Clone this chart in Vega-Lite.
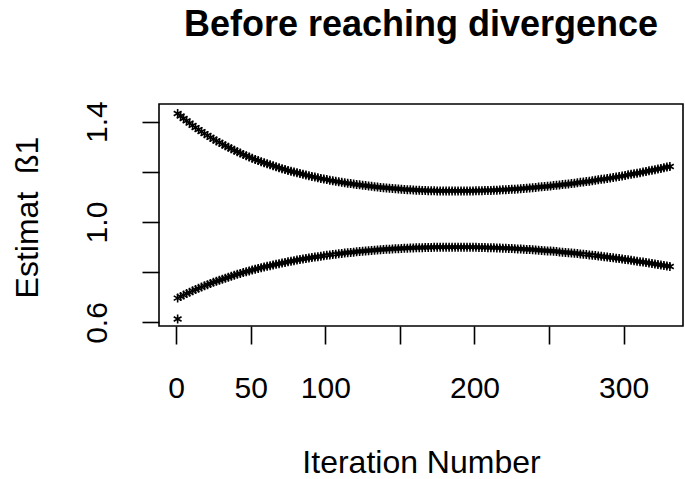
{
  "$schema": "https://vega.github.io/schema/vega-lite/v6.json",
  "width": 524,
  "height": 222,
  "autosize": {"type": "none"},
  "padding": {"left": 159, "top": 104, "right": 2, "bottom": 153},
  "background": "white",
  "title": {
    "text": "Before reaching divergence",
    "font": "Liberation Sans",
    "fontSize": 36,
    "fontWeight": "bold",
    "color": "black",
    "anchor": "middle",
    "frame": "group",
    "baseline": "alphabetic",
    "offset": 29
  },
  "config": {
    "font": "Liberation Sans",
    "view": {"stroke": "black", "strokeWidth": 1.6}
  },
  "data": {
    "values": [
      {"iter": 1, "upper": 1.432, "lower": 0.697},
      {"iter": 3, "upper": 1.422, "lower": 0.703},
      {"iter": 5, "upper": 1.412, "lower": 0.709},
      {"iter": 7, "upper": 1.403, "lower": 0.715},
      {"iter": 9, "upper": 1.394, "lower": 0.720},
      {"iter": 11, "upper": 1.385, "lower": 0.726},
      {"iter": 13, "upper": 1.376, "lower": 0.731},
      {"iter": 15, "upper": 1.368, "lower": 0.736},
      {"iter": 17, "upper": 1.360, "lower": 0.741},
      {"iter": 19, "upper": 1.352, "lower": 0.746},
      {"iter": 21, "upper": 1.345, "lower": 0.750},
      {"iter": 23, "upper": 1.337, "lower": 0.755},
      {"iter": 25, "upper": 1.330, "lower": 0.760},
      {"iter": 27, "upper": 1.323, "lower": 0.764},
      {"iter": 29, "upper": 1.317, "lower": 0.768},
      {"iter": 31, "upper": 1.310, "lower": 0.772},
      {"iter": 33, "upper": 1.304, "lower": 0.776},
      {"iter": 35, "upper": 1.298, "lower": 0.780},
      {"iter": 37, "upper": 1.292, "lower": 0.784},
      {"iter": 39, "upper": 1.286, "lower": 0.788},
      {"iter": 41, "upper": 1.280, "lower": 0.792},
      {"iter": 43, "upper": 1.275, "lower": 0.795},
      {"iter": 45, "upper": 1.269, "lower": 0.799},
      {"iter": 47, "upper": 1.264, "lower": 0.802},
      {"iter": 49, "upper": 1.259, "lower": 0.805},
      {"iter": 51, "upper": 1.254, "lower": 0.809},
      {"iter": 53, "upper": 1.249, "lower": 0.812},
      {"iter": 55, "upper": 1.245, "lower": 0.815},
      {"iter": 57, "upper": 1.240, "lower": 0.818},
      {"iter": 59, "upper": 1.236, "lower": 0.821},
      {"iter": 61, "upper": 1.232, "lower": 0.824},
      {"iter": 63, "upper": 1.228, "lower": 0.826},
      {"iter": 65, "upper": 1.224, "lower": 0.829},
      {"iter": 67, "upper": 1.220, "lower": 0.832},
      {"iter": 69, "upper": 1.216, "lower": 0.834},
      {"iter": 71, "upper": 1.212, "lower": 0.837},
      {"iter": 73, "upper": 1.209, "lower": 0.839},
      {"iter": 75, "upper": 1.205, "lower": 0.842},
      {"iter": 77, "upper": 1.202, "lower": 0.844},
      {"iter": 79, "upper": 1.199, "lower": 0.846},
      {"iter": 81, "upper": 1.196, "lower": 0.849},
      {"iter": 83, "upper": 1.193, "lower": 0.851},
      {"iter": 85, "upper": 1.190, "lower": 0.853},
      {"iter": 87, "upper": 1.187, "lower": 0.855},
      {"iter": 89, "upper": 1.184, "lower": 0.857},
      {"iter": 91, "upper": 1.181, "lower": 0.859},
      {"iter": 93, "upper": 1.179, "lower": 0.861},
      {"iter": 95, "upper": 1.176, "lower": 0.862},
      {"iter": 97, "upper": 1.173, "lower": 0.864},
      {"iter": 99, "upper": 1.171, "lower": 0.866},
      {"iter": 101, "upper": 1.169, "lower": 0.868},
      {"iter": 103, "upper": 1.166, "lower": 0.869},
      {"iter": 105, "upper": 1.164, "lower": 0.871},
      {"iter": 107, "upper": 1.162, "lower": 0.872},
      {"iter": 109, "upper": 1.160, "lower": 0.874},
      {"iter": 111, "upper": 1.158, "lower": 0.875},
      {"iter": 113, "upper": 1.156, "lower": 0.877},
      {"iter": 115, "upper": 1.154, "lower": 0.878},
      {"iter": 117, "upper": 1.153, "lower": 0.879},
      {"iter": 119, "upper": 1.151, "lower": 0.880},
      {"iter": 121, "upper": 1.149, "lower": 0.882},
      {"iter": 123, "upper": 1.148, "lower": 0.883},
      {"iter": 125, "upper": 1.146, "lower": 0.884},
      {"iter": 127, "upper": 1.145, "lower": 0.885},
      {"iter": 129, "upper": 1.143, "lower": 0.886},
      {"iter": 131, "upper": 1.142, "lower": 0.887},
      {"iter": 133, "upper": 1.140, "lower": 0.888},
      {"iter": 135, "upper": 1.139, "lower": 0.889},
      {"iter": 137, "upper": 1.138, "lower": 0.890},
      {"iter": 139, "upper": 1.137, "lower": 0.891},
      {"iter": 141, "upper": 1.136, "lower": 0.892},
      {"iter": 143, "upper": 1.135, "lower": 0.892},
      {"iter": 145, "upper": 1.134, "lower": 0.893},
      {"iter": 147, "upper": 1.133, "lower": 0.894},
      {"iter": 149, "upper": 1.132, "lower": 0.894},
      {"iter": 151, "upper": 1.131, "lower": 0.895},
      {"iter": 153, "upper": 1.130, "lower": 0.896},
      {"iter": 155, "upper": 1.129, "lower": 0.896},
      {"iter": 157, "upper": 1.129, "lower": 0.897},
      {"iter": 159, "upper": 1.128, "lower": 0.897},
      {"iter": 161, "upper": 1.127, "lower": 0.898},
      {"iter": 163, "upper": 1.127, "lower": 0.898},
      {"iter": 165, "upper": 1.126, "lower": 0.898},
      {"iter": 167, "upper": 1.126, "lower": 0.899},
      {"iter": 169, "upper": 1.125, "lower": 0.899},
      {"iter": 171, "upper": 1.125, "lower": 0.899},
      {"iter": 173, "upper": 1.125, "lower": 0.900},
      {"iter": 175, "upper": 1.124, "lower": 0.900},
      {"iter": 177, "upper": 1.124, "lower": 0.900},
      {"iter": 179, "upper": 1.124, "lower": 0.900},
      {"iter": 181, "upper": 1.124, "lower": 0.900},
      {"iter": 183, "upper": 1.124, "lower": 0.900},
      {"iter": 185, "upper": 1.124, "lower": 0.900},
      {"iter": 187, "upper": 1.124, "lower": 0.900},
      {"iter": 189, "upper": 1.124, "lower": 0.900},
      {"iter": 191, "upper": 1.124, "lower": 0.900},
      {"iter": 193, "upper": 1.124, "lower": 0.900},
      {"iter": 195, "upper": 1.124, "lower": 0.900},
      {"iter": 197, "upper": 1.124, "lower": 0.900},
      {"iter": 199, "upper": 1.124, "lower": 0.900},
      {"iter": 201, "upper": 1.125, "lower": 0.900},
      {"iter": 203, "upper": 1.125, "lower": 0.899},
      {"iter": 205, "upper": 1.125, "lower": 0.899},
      {"iter": 207, "upper": 1.126, "lower": 0.899},
      {"iter": 209, "upper": 1.126, "lower": 0.898},
      {"iter": 211, "upper": 1.126, "lower": 0.898},
      {"iter": 213, "upper": 1.127, "lower": 0.898},
      {"iter": 215, "upper": 1.127, "lower": 0.897},
      {"iter": 217, "upper": 1.128, "lower": 0.897},
      {"iter": 219, "upper": 1.129, "lower": 0.896},
      {"iter": 221, "upper": 1.129, "lower": 0.896},
      {"iter": 223, "upper": 1.130, "lower": 0.895},
      {"iter": 225, "upper": 1.131, "lower": 0.895},
      {"iter": 227, "upper": 1.131, "lower": 0.894},
      {"iter": 229, "upper": 1.132, "lower": 0.893},
      {"iter": 231, "upper": 1.133, "lower": 0.893},
      {"iter": 233, "upper": 1.134, "lower": 0.892},
      {"iter": 235, "upper": 1.135, "lower": 0.891},
      {"iter": 237, "upper": 1.136, "lower": 0.891},
      {"iter": 239, "upper": 1.137, "lower": 0.890},
      {"iter": 241, "upper": 1.138, "lower": 0.889},
      {"iter": 243, "upper": 1.139, "lower": 0.888},
      {"iter": 245, "upper": 1.140, "lower": 0.887},
      {"iter": 247, "upper": 1.141, "lower": 0.886},
      {"iter": 249, "upper": 1.142, "lower": 0.885},
      {"iter": 251, "upper": 1.143, "lower": 0.885},
      {"iter": 253, "upper": 1.145, "lower": 0.884},
      {"iter": 255, "upper": 1.146, "lower": 0.883},
      {"iter": 257, "upper": 1.147, "lower": 0.881},
      {"iter": 259, "upper": 1.149, "lower": 0.880},
      {"iter": 261, "upper": 1.150, "lower": 0.879},
      {"iter": 263, "upper": 1.151, "lower": 0.878},
      {"iter": 265, "upper": 1.153, "lower": 0.877},
      {"iter": 267, "upper": 1.154, "lower": 0.876},
      {"iter": 269, "upper": 1.156, "lower": 0.875},
      {"iter": 271, "upper": 1.158, "lower": 0.873},
      {"iter": 273, "upper": 1.159, "lower": 0.872},
      {"iter": 275, "upper": 1.161, "lower": 0.871},
      {"iter": 277, "upper": 1.162, "lower": 0.869},
      {"iter": 279, "upper": 1.164, "lower": 0.868},
      {"iter": 281, "upper": 1.166, "lower": 0.867},
      {"iter": 283, "upper": 1.168, "lower": 0.865},
      {"iter": 285, "upper": 1.170, "lower": 0.864},
      {"iter": 287, "upper": 1.171, "lower": 0.862},
      {"iter": 289, "upper": 1.173, "lower": 0.861},
      {"iter": 291, "upper": 1.175, "lower": 0.859},
      {"iter": 293, "upper": 1.177, "lower": 0.858},
      {"iter": 295, "upper": 1.179, "lower": 0.856},
      {"iter": 297, "upper": 1.181, "lower": 0.855},
      {"iter": 299, "upper": 1.183, "lower": 0.853},
      {"iter": 301, "upper": 1.185, "lower": 0.851},
      {"iter": 303, "upper": 1.188, "lower": 0.850},
      {"iter": 305, "upper": 1.190, "lower": 0.848},
      {"iter": 307, "upper": 1.192, "lower": 0.846},
      {"iter": 309, "upper": 1.194, "lower": 0.844},
      {"iter": 311, "upper": 1.196, "lower": 0.842},
      {"iter": 313, "upper": 1.199, "lower": 0.841},
      {"iter": 315, "upper": 1.201, "lower": 0.839},
      {"iter": 317, "upper": 1.204, "lower": 0.837},
      {"iter": 319, "upper": 1.206, "lower": 0.835},
      {"iter": 321, "upper": 1.208, "lower": 0.833},
      {"iter": 323, "upper": 1.211, "lower": 0.831},
      {"iter": 325, "upper": 1.213, "lower": 0.829},
      {"iter": 327, "upper": 1.216, "lower": 0.827},
      {"iter": 329, "upper": 1.219, "lower": 0.825},
      {"iter": 331, "upper": 1.221, "lower": 0.823}
    ]
  },
  "encoding": {
    "x": {
      "field": "iter",
      "type": "quantitative",
      "scale": {"domain": [-11.5, 339.8], "nice": false, "zero": false},
      "axis": {
        "title": "Iteration Number",
        "values": [0, 50, 100, 150, 200, 250, 300],
        "labelExpr": "datum.value == 150 || datum.value == 250 ? '' : datum.label",
        "domain": false,
        "grid": false,
        "tickColor": "black",
        "tickSize": 18,
        "tickWidth": 1.6,
        "labelFont": "Liberation Sans",
        "labelFontSize": 30,
        "labelColor": "black",
        "labelAngle": 0,
        "labelBaseline": "alphabetic",
        "labelPadding": 53,
        "labelFlush": false,
        "labelOverlap": false,
        "titleFont": "Liberation Sans",
        "titleFontSize": 32,
        "titleFontWeight": "normal",
        "titleColor": "black",
        "titleBaseline": "alphabetic",
        "titleAlign": "center",
        "titleX": 262,
        "titleY": 146
      }
    }
  },
  "layer": [
    {
      "mark": {
        "type": "point",
        "shape": "M0,-1L0,1M-0.87,-0.5L0.87,0.5M-0.87,0.5L0.87,-0.5",
        "filled": false,
        "stroke": "black",
        "strokeWidth": 1.6,
        "size": 81,
        "opacity": 1
      },
      "encoding": {
        "y": {
          "field": "upper",
          "type": "quantitative",
          "scale": {"domain": [0.586, 1.47], "nice": false, "zero": false},
          "axis": {
            "title": "Estimat\u00a0 ß1",
            "values": [0.6, 0.8, 1.0, 1.2, 1.4],
            "format": ".1f",
            "labelExpr": "abs(datum.value - 0.8) < 0.01 || abs(datum.value - 1.2) < 0.01 ? '' : datum.label",
            "domain": false,
            "grid": false,
            "tickColor": "black",
            "tickSize": 17,
            "tickWidth": 1.6,
            "labelFont": "Liberation Sans",
            "labelFontSize": 30,
            "labelColor": "black",
            "labelAngle": 270,
            "labelAlign": "center",
            "labelBaseline": "alphabetic",
            "labelPadding": 36,
            "labelFlush": false,
            "labelOverlap": false,
            "titleFont": "Liberation Sans",
            "titleFontSize": 32,
            "titleFontWeight": "normal",
            "titleColor": "black",
            "titleAngle": 270,
            "titleAlign": "center",
            "titleBaseline": "alphabetic",
            "titleX": -122,
            "titleY": 113
          }
        }
      }
    },
    {
      "mark": {
        "type": "point",
        "shape": "M0,-1L0,1M-0.87,-0.5L0.87,0.5M-0.87,0.5L0.87,-0.5",
        "filled": false,
        "stroke": "black",
        "strokeWidth": 1.6,
        "size": 81,
        "opacity": 1
      },
      "encoding": {
        "y": {"field": "lower", "type": "quantitative"}
      }
    },
    {
      "data": {"values": [{"iter": 1, "value": 0.614}]},
      "mark": {
        "type": "point",
        "shape": "M0,-1L0,1M-0.87,-0.5L0.87,0.5M-0.87,0.5L0.87,-0.5",
        "filled": false,
        "stroke": "black",
        "strokeWidth": 1.6,
        "size": 81,
        "opacity": 1
      },
      "encoding": {
        "y": {"field": "value", "type": "quantitative"}
      }
    }
  ]
}
